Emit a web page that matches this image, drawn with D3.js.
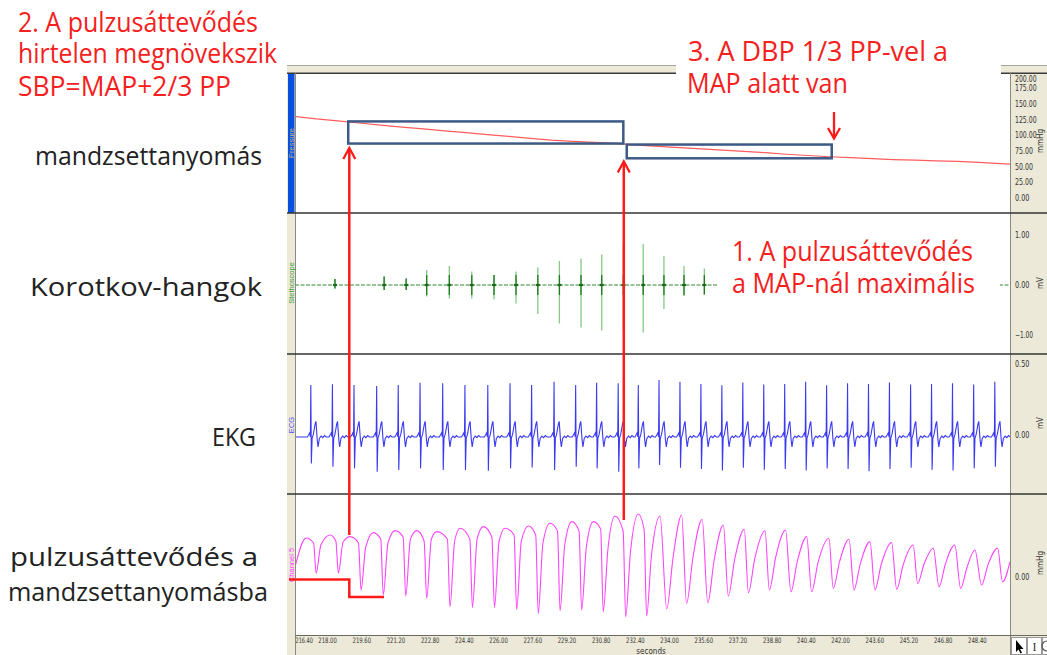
<!DOCTYPE html>
<html><head><meta charset="utf-8">
<script src="https://cdn.jsdelivr.net/npm/d3@7"></script>
<style>body{margin:0;background:#fff}svg{display:block}</style>
</head><body><svg id="c" width="1047" height="655"></svg>
<script>
// ---------------- data ----------------
const xTicks = [216.4,218.0,219.6,221.2,222.8,224.4,226.0,227.6,229.2,230.8,232.4,234.0,235.6,237.2,238.8,240.4,242.0,243.6,245.2,246.8,248.4];
const pressureTicks = [0,25,50,75,100,125,150,175,200];
const stethTicks = [-1,0,1];
const ecgTicks = [0,0.5];
const ch5Ticks = [0];

// cuff pressure (mmHg)
const pressureTimes = [216.5,217.5,218.5,219.5,220.5,221.5,222.5,223.5,224.5,225.5,226.5,227.5,228.5,229.5,230.5,231.5,232.5,233.5,234.5,235.5,236.5,237.5,238.5,239.5,240.5,241.5,242.5,243.5,244.5,245.5,246.5,247.5,248.5,249.5,249.95];
const pressureValues = [131,127,124,120.5,117,114,111,108,105,102,99,96,93,91,89.5,88,85,83,81,79,77,75,73,70.5,68.5,66.5,65,63.5,62,61,60,59,57.5,55.5,54.8];

// Korotkov sounds (mV)
const korotkovTimes = [218.37,220.67,221.70,222.66,223.72,224.77,225.81,226.84,227.86,228.87,229.88,230.85,231.86,232.79,233.76,234.70,235.65];
const korotkovUp    = [0.12,0.17,0.13,0.30,0.38,0.27,0.20,0.27,0.35,0.48,0.53,0.61,0.83,0.82,0.58,0.38,0.33];
const korotkovDown  = [-0.07,-0.10,-0.10,-0.23,-0.27,-0.27,-0.29,-0.37,-0.58,-0.77,-0.85,-0.91,-0.89,-0.95,-0.48,-0.22,-0.19];

// ECG R-waves (mV)
const ecgTimes = [217.24,218.25,219.26,220.32,221.33,222.35,223.41,224.45,225.52,226.56,227.57,228.62,229.63,230.61,231.62,232.56,233.53,234.51,235.49,236.47,237.45,238.43,239.41,240.39,241.37,242.35,243.33,244.31,245.30,246.28,247.26,248.25,249.24];
const ecgR = [0.352,0.357,0.352,0.345,0.352,0.368,0.364,0.352,0.352,0.364,0.352,0.375,0.352,0.368,0.364,0.352,0.387,0.375,0.36,0.35,0.37,0.355,0.36,0.375,0.35,0.365,0.36,0.37,0.355,0.36,0.365,0.355,0.375];
const ecgS = [-0.2,-0.223,-0.235,-0.258,-0.246,-0.235,-0.246,-0.246,-0.251,-0.235,-0.228,-0.246,-0.223,-0.235,-0.258,-0.235,-0.211,-0.23,-0.24,-0.25,-0.23,-0.245,-0.24,-0.25,-0.235,-0.24,-0.255,-0.24,-0.23,-0.245,-0.25,-0.235,-0.223];
const ecgBaseline = -0.014;
// one heartbeat shape around the R wave: [seconds from R, mV from baseline]
const ecgShape = [[-0.16,0],[-0.1,0.015],[-0.05,0.03],[-0.02,0],["R"],["S"],[0.06,-0.01],[0.12,0.02],[0.2,0.09],[0.24,0.11],[0.3,-0.02],[0.34,-0.07],[0.4,-0.01],[0.48,0.006],[0.56,-0.005],[0.64,0.01],[0.72,0]];

// pulse in cuff (Channel 5)
const pulseStart = [216.5,0.5];
const pulseEnd = [249.95,0.77];
const pulsePeakTimes = [217.02,218.14,219.08,220.17,221.18,222.20,223.13,224.22,225.31,226.33,227.42,228.43,229.45,230.46,231.47,232.56,233.58,234.59,235.55,236.54,237.52,238.49,239.45,240.44,241.48,242.42,243.40,244.41,245.42,246.36,247.37,248.31,249.37];
const pulsePeakValues = [1.95,2.1,2.02,2.22,2.32,2.32,2.27,2.44,2.52,2.44,2.55,2.69,2.77,2.77,3.05,3.15,3.05,3.1,2.89,2.6,2.39,2.32,2.35,2.02,1.94,1.89,1.77,1.72,1.6,1.44,1.6,1.35,1.44];
const pulseTroughTimes = [217.49,218.53,219.59,220.63,221.68,222.66,223.75,224.80,225.83,226.87,227.88,228.90,229.91,230.92,231.97,232.95,233.89,234.82,235.81,236.77,237.71,238.69,239.70,240.67,241.68,242.65,243.63,244.65,245.63,246.63,247.64,248.62,249.60];
const pulseTroughValues = [0.19,0.2,-0.65,-0.9,-0.95,-1.07,-1.49,-1.52,-1.52,-1.62,-1.82,-1.69,-1.65,-1.74,-1.99,-1.95,-1.6,-1.32,-1.29,-0.95,-0.79,-0.65,-0.74,-0.74,-0.57,-0.65,-0.65,-0.62,-0.32,-0.49,-0.57,-0.4,-0.24];
// end of the flat top just before each sharp fall (early, high-cuff-pressure beats)
const pulseShoulderTimes = [217.37,218.41,219.47,220.51,221.56,222.54,223.63,224.68,225.71,226.75,227.76,228.78,229.79,230.80,231.85,232.83];
const pulseShoulderValues = [1.7,1.8,1.7,1.9,2.0,1.8,1.9,1.9,2.0,2.1,2.1,2.3,2.3,2.4,2.3,2.4];
// point on the rising limb after each trough
const pulseKneeTimes = [217.71,218.75,219.81,220.85,221.90,222.88,223.97,225.02,226.05,227.09,228.10,229.12,230.13,231.14,232.19,233.17,234.19,235.12,236.11,237.07,238.01,238.99,240.00,240.97,241.98,242.95,243.93,244.95,245.93,246.93,247.94,248.92];
const pulseKneeValues = [1.6,1.75,1.5,1.7,1.9,1.9,1.8,1.9,1.8,1.8,1.7,1.6,1.5,1.4,1.2,1.0,1.0,1.0,0.85,0.89,0.92,1.0,0.78,0.73,0.78,0.68,0.65,0.6,0.65,0.66,0.49,0.61];

const channelNames = ["Pressure","Stethoscope","ECG","Channel 5"];
const channelUnits = ["mmHg","mV","mV","mmHg"];

// ---------------- layout ----------------
const svg = d3.select("#c");
const X0 = 295, X1 = 1010, L = 287, R = 1047;
const chColors = ["#c8b88a","#3a9a3a","#4a4af0","#ff40ff"];
const beige = "#ece9d8";
const x = d3.scaleLinear().domain([216.5,249.95]).range([X0,X1]);
const yP = d3.scaleLinear().domain([0,200]).range([198.3,73.3]);
const yS = d3.scaleLinear().domain([-1,1]).range([335,235]);
const yE = d3.scaleLinear().domain([0,0.5]).range([435,364]);
const yC = d3.scaleLinear().domain([0,1]).range([577,557]);
const axisFont = "'Liberation Sans Narrow','DejaVu Sans Condensed','Arial Narrow','Liberation Sans',sans-serif";
const bigFont = "'Open Sans','Noto Sans',sans-serif";

// frame
svg.append("rect").attr("x",L).attr("y",65).attr("width",R-L).attr("height",8).attr("fill",beige);
svg.append("line").attr("x1",L).attr("x2",R).attr("y1",65.5).attr("y2",65.5).attr("stroke","#a9a89a");
svg.append("rect").attr("x",L).attr("y",73).attr("width",X0-L).attr("height",655-73).attr("fill",beige);
svg.append("rect").attr("x",288).attr("y",74).attr("width",6.5).attr("height",139).attr("fill","#0a50e0");
svg.append("rect").attr("x",X1).attr("y",73).attr("width",R-X1).attr("height",655-73).attr("fill",beige);
svg.append("rect").attr("x",X0).attr("y",635).attr("width",X1-X0).attr("height",20).attr("fill",beige);
svg.append("line").attr("x1",L).attr("x2",R).attr("y1",73.3).attr("y2",73.3).attr("stroke","#3a3a3a").attr("stroke-width",1.5);
svg.append("line").attr("x1",X0+0.5).attr("x2",X0+0.5).attr("y1",73).attr("y2",655).attr("stroke","#8a8a80");
svg.append("line").attr("x1",X1+0.5).attr("x2",X1+0.5).attr("y1",73).attr("y2",655).attr("stroke","#8a8a80");
svg.append("line").attr("x1",X0).attr("x2",R).attr("y1",635.5).attr("y2",635.5).attr("stroke","#6a6a60");
[213,354,494].forEach(y=>svg.append("line").attr("x1",L).attr("x2",R).attr("y1",y).attr("y2",y).attr("stroke","#333").attr("stroke-width",1.6));

// channel names in left strip
channelNames.forEach((n,i)=>{
  const cy = [143,283,425,565][i];
  svg.append("text").attr("transform",`translate(293.5,${cy}) rotate(-90)`).attr("text-anchor","middle")
    .attr("font-family","Arial,'Liberation Sans',sans-serif").attr("font-size",7.5).attr("fill",chColors[i]).text(n);
});

// clip
svg.append("clipPath").attr("id","plot").append("rect").attr("x",X0+1).attr("y",74).attr("width",X1-X0-1).attr("height",561);
const g = svg.append("g").attr("clip-path","url(#plot)");

// pressure
g.append("path").datum(pressureTimes.map((t,i)=>[t,pressureValues[i]]))
  .attr("d",d3.line().x(d=>x(d[0])).y(d=>yP(d[1])))
  .attr("fill","none").attr("stroke","#ff5c5c").attr("stroke-width",1.2);

// stethoscope
g.append("line").attr("x1",X0).attr("x2",X1).attr("y1",yS(0)).attr("y2",yS(0))
  .attr("stroke","#2e8b2e").attr("stroke-width",1).attr("stroke-dasharray","4,1.5");
korotkovTimes.forEach((t,i)=>{
  const xx = x(t);
  g.append("line").attr("x1",xx).attr("x2",xx).attr("y1",yS(korotkovUp[i])).attr("y2",yS(korotkovDown[i]))
    .attr("stroke","#86c886").attr("stroke-width",1.3);
  g.append("line").attr("x1",xx).attr("x2",xx).attr("y1",yS(Math.min(korotkovUp[i],0.2))).attr("y2",yS(Math.max(korotkovDown[i],-0.2)))
    .attr("stroke","#1d7a1d").attr("stroke-width",1.3);
  g.append("line").attr("x1",xx-2).attr("x2",xx+2).attr("y1",yS(0)).attr("y2",yS(0))
    .attr("stroke","#1d6a1d").attr("stroke-width",2.2);
});

// ECG
const ecgPts = [[216.5,ecgBaseline]];
ecgTimes.forEach((t,i)=>{
  ecgShape.forEach(p=>{
    if(p[0]==="R") ecgPts.push([t,ecgR[i]]);
    else if(p[0]==="S") ecgPts.push([t+0.025,ecgS[i]]);
    else ecgPts.push([t+p[0],ecgBaseline+p[1]]);
  });
});
ecgPts.push([250,ecgBaseline]);
ecgPts.sort((a,b)=>a[0]-b[0]);
g.append("path").datum(ecgPts).attr("d",d3.line().x(d=>x(d[0])).y(d=>yE(d[1])))
  .attr("fill","none").attr("stroke","#3a3af0").attr("stroke-width",1.1);

// Channel 5
const pulsePts = [pulseStart]
  .concat(pulsePeakTimes.map((t,i)=>[t,pulsePeakValues[i]]))
  .concat(pulseTroughTimes.map((t,i)=>[t,pulseTroughValues[i]]))
  .concat(pulseShoulderTimes.map((t,i)=>[t,pulseShoulderValues[i]]))
  .concat(pulseKneeTimes.map((t,i)=>[t,pulseKneeValues[i]]))
  .concat([pulseEnd]).sort((a,b)=>a[0]-b[0]);
g.append("path").datum(pulsePts).attr("d",d3.line().curve(d3.curveMonotoneX).x(d=>x(d[0])).y(d=>yC(d[1])))
  .attr("fill","none").attr("stroke","#ff44ff").attr("stroke-width",1.1);

// right axes
function rightAxis(scale, ticks, minY){
  const ax = svg.append("g").attr("transform",`translate(${X1},0)`)
    .call(d3.axisRight(scale).tickValues(ticks).tickSize(0).tickPadding(5).tickFormat(d3.format(".2f")));
  ax.select(".domain").remove();
  ax.selectAll("text").attr("font-family",axisFont).attr("font-size",8).attr("fill","#333")
    .attr("textLength",function(){return this.textContent.length*3.6;}).attr("lengthAdjust","spacingAndGlyphs");
  if(minY!==undefined) ax.selectAll(".tick").attr("transform",d=>`translate(0,${Math.max(scale(d),minY)})`);
}
rightAxis(yP,pressureTicks,79);
rightAxis(yS,stethTicks);
rightAxis(yE,ecgTicks);
rightAxis(yC,ch5Ticks);
channelUnits.forEach((u,i)=>{
  const cy=[141,283,423,563][i];
  svg.append("text").attr("transform",`translate(1043,${cy}) rotate(-90)`).attr("text-anchor","middle")
    .attr("font-family",axisFont).attr("font-size",8).attr("fill","#333").text(u);
});

// bottom axis
const bx = svg.append("g").attr("transform","translate(0,636)")
  .call(d3.axisBottom(x).tickValues(xTicks).tickSize(0).tickPadding(2).tickFormat(d3.format(".2f")));
bx.select(".domain").remove();
bx.selectAll("text").attr("font-family",axisFont).attr("font-size",7.5).attr("fill","#333")
  .attr("textLength",18.5).attr("lengthAdjust","spacingAndGlyphs");
bx.selectAll(".tick").filter(d=>d===xTicks[0]).select("text").attr("text-anchor","start").attr("x",X0-x(xTicks[0])).attr("textLength",17.5);
svg.append("text").attr("x",651).attr("y",654).attr("text-anchor","middle").attr("font-family",axisFont)
  .attr("font-size",8).attr("fill","#333").text("seconds");

// toolbar icons
[[1011,15],[1027,14],[1042,6]].forEach(b=>svg.append("rect").attr("x",b[0]+0.5).attr("y",637.5).attr("width",b[1]).attr("height",17).attr("fill","#fff").attr("stroke","#999"));
svg.append("path").attr("d","M1016,640 L1016,652 L1018.5,649.5 L1020.5,653.5 L1022,652.8 L1020,649 L1023.5,649 Z").attr("fill","#000");
svg.append("text").attr("x",1034.5).attr("y",651).attr("text-anchor","middle").attr("font-family","'Liberation Serif',serif").attr("font-size",12).attr("fill","#333").text("I");
svg.append("path").attr("d","M1047,641 A5,5 0 0,0 1047,651").attr("fill","none").attr("stroke","#555").attr("stroke-width",1.2);

// ---------------- annotations ----------------
svg.append("rect").attr("x",676).attr("y",30).attr("width",325).attr("height",44).attr("fill","#fff");
svg.append("rect").attr("x",718).attr("y",228).attr("width",282).attr("height",78).attr("fill","#fff");

// boxes (time range, pressure range)
const boxStroke = "#3d5a87";
const boxes = [[218.99,123,231.86,87.6],[232.02,86,241.61,64]];
boxes.forEach(b=>{
  svg.append("rect").attr("x",x(b[0])).attr("y",yP(b[1])).attr("width",x(b[2])-x(b[0])).attr("height",yP(b[3])-yP(b[1]))
    .attr("fill","none").attr("stroke",boxStroke).attr("stroke-width",2.5);
});

// red arrows
const red = "#ff1a1a";
function arrowUp(xx, yTop, yBot){
  svg.append("line").attr("x1",xx).attr("x2",xx).attr("y1",yTop+1).attr("y2",yBot).attr("stroke",red).attr("stroke-width",2.5);
  svg.append("path").attr("d",`M${xx-6},${yTop+11} L${xx},${yTop} L${xx+6},${yTop+11}`).attr("fill","none").attr("stroke",red).attr("stroke-width",2.3);
}
arrowUp(349.3,148,535);
arrowUp(623.8,161.5,520);
svg.append("line").attr("x1",834).attr("x2",834).attr("y1",112).attr("y2",137).attr("stroke",red).attr("stroke-width",2.3);
svg.append("path").attr("d","M828,128 L834,138.5 L840,128").attr("fill","none").attr("stroke",red).attr("stroke-width",2.3);
svg.append("path").attr("d","M289,579.5 L349.3,579.5 L349.3,597 L384,597").attr("fill","none").attr("stroke",red).attr("stroke-width",2.5);

// texts
function txt(s, x0, base, len, size, color){
  svg.append("text").attr("x",x0).attr("y",base).attr("font-family",bigFont).attr("font-size",size)
    .attr("fill",color).attr("textLength",len).attr("lengthAdjust","spacingAndGlyphs").text(s);
}
const rc = "#f52020", bc = "#222";
txt("2. A pulzusáttevődés",18,32,240,27,rc);
txt("hirtelen megnövekszik",18,62.5,259,27,rc);
txt("SBP=MAP+2/3 PP",18,96,213,27,rc);
txt("3. A DBP 1/3 PP-vel a",688,61,260,27,rc);
txt("MAP alatt van",687,93,161,27,rc);
txt("1. A pulzusáttevődés",732,261,241,27,rc);
txt("a MAP-nál maximális",732,293,243,27,rc);

txt("mandzsettanyomás",35,165,227,25,bc);
txt("Korotkov-hangok",30,296,232,25,bc);
txt("EKG",212,446,44,25,bc);
txt("pulzusáttevődés a",10,566,248,25,bc);
txt("mandzsettanyomásba",8,601,260,25,bc);
</script></body></html>
